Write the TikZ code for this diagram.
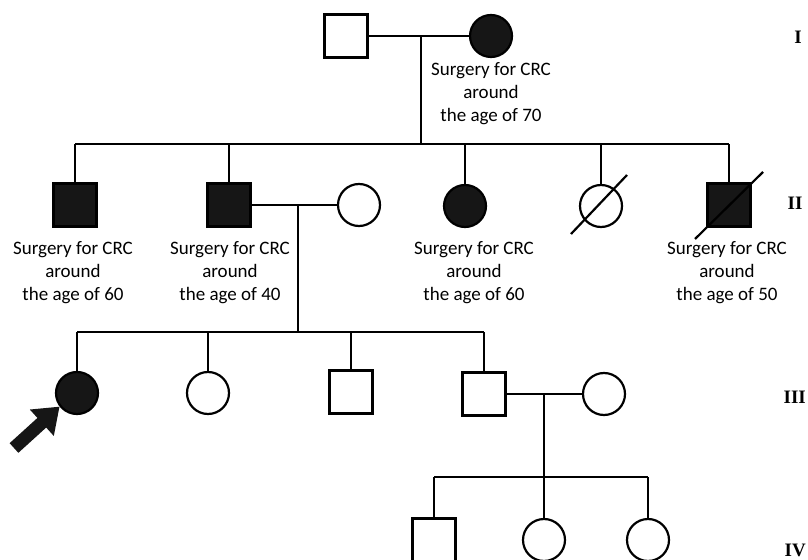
\documentclass[tikz,border=0pt]{standalone}
\usepackage{fontspec}
\setmainfont{Carlito}
\newfontfamily\rnfont{Liberation Serif}
\usetikzlibrary{arrows.meta}
\definecolor{affected}{HTML}{161616}
\tikzset{
  ln/.style={line width=2.2bp, black},
  male/.style={draw, line width=2.2bp, rectangle, minimum size=43bp, inner sep=0pt},
  female/.style={draw, line width=2.2bp, circle, minimum size=42bp, inner sep=0pt},
  aff/.style={fill=affected},
  note/.style={align=center, font=\fontsize{19bp}{23bp}\selectfont, inner sep=0pt, anchor=north},
  gen/.style={font=\rnfont\bfseries\fontsize{19bp}{22bp}\selectfont, inner sep=0pt},
  deceased/.style={ln}
}
\begin{document}
\begin{tikzpicture}[x=1bp,y=-1bp]
\useasboundingbox (0,0) rectangle (808,560);
% Generation I
\node[male] (I1) at (346,36) {};
\node[female,aff] (I2) at (491,36) {};
\coordinate (m1) at (421,36);
\coordinate (s1) at (421,144);
\draw[ln] (I1.east) -- (I2.west);
\draw[ln] (m1) -- (s1);
\node[note] (t1) at (491,62) {Surgery for CRC\\around\\the age of 70};
% Generation II
\node[male,aff] (II1) at (75,205) {};
\node[male,aff] (II2) at (229,205) {};
\node[female] (II3) at (359,205) {};
\node[female,aff] (II4) at (465,206) {};
\node[female] (II5) at (601,206) {};
\node[male,aff] (II6) at (729,205) {};
\draw[ln] (II1 |- s1) -- (II6 |- s1);
\foreach \c in {II1,II2,II4,II5,II6} \draw[ln] (\c.north) -- (\c |- s1);
\coordinate (tl5) at (571,234);
\coordinate (tr5) at (627,175);
\draw[deceased] (tl5) -- (tr5);
\coordinate (tl6) at (695,239);
\coordinate (tr6) at (763,172);
\draw[deceased] (tl6) -- (tr6);
\node[note] (t2) at (73,241) {Surgery for CRC\\around\\the age of 60};
\node[note] (t3) at (230,241) {Surgery for CRC\\around\\the age of 40};
\node[note] (t4) at (474,241) {Surgery for CRC\\around\\the age of 60};
\node[note] (t5) at (727,241) {Surgery for CRC\\around\\the age of 50};
\coordinate (m2) at (298,205);
\coordinate (s2) at (298,332);
\draw[ln] (II2.east) -- (II3.west);
\draw[ln] (m2) -- (s2);
% Generation III
\node[female,aff] (III1) at (77,393) {};
\node[female] (III2) at (208,393) {};
\node[male] (III3) at (351,392) {};
\node[male] (III4) at (484,394) {};
\node[female] (III5) at (604,394) {};
\draw[ln] (III1 |- s2) -- (III4 |- s2);
\foreach \c in {III1,III2,III3,III4} \draw[ln] (\c.north) -- (\c |- s2);
\coordinate (m3) at (544,394);
\coordinate (s3) at (544,477);
\draw[ln] (III4.east) -- (III5.west);
\draw[ln] (m3) -- (s3);
% Generation IV
\node[male] (IV1) at (434,540) {};
\node[female] (IV2) at (544,540) {};
\node[female] (IV3) at (648,540) {};
\draw[ln] (IV1 |- s3) -- (IV3 |- s3);
\foreach \c in {IV1,IV2,IV3} \draw[ln] (\c.north) -- (\c |- s3);
% proband arrow
\coordinate (ptail) at (14,448);
\draw[line width=13bp, affected, -{Triangle[length=24bp,width=34bp]}] (ptail) -- (III1.218);
% generation labels
\node[gen] (gI) at (798,37) {I};
\node[gen] (gII) at (795,203) {II};
\node[gen,anchor=east] (gIII) at (806,397) {III};
\node[gen,anchor=east] (gIV) at (806,550) {IV};
\end{tikzpicture}
\end{document}
